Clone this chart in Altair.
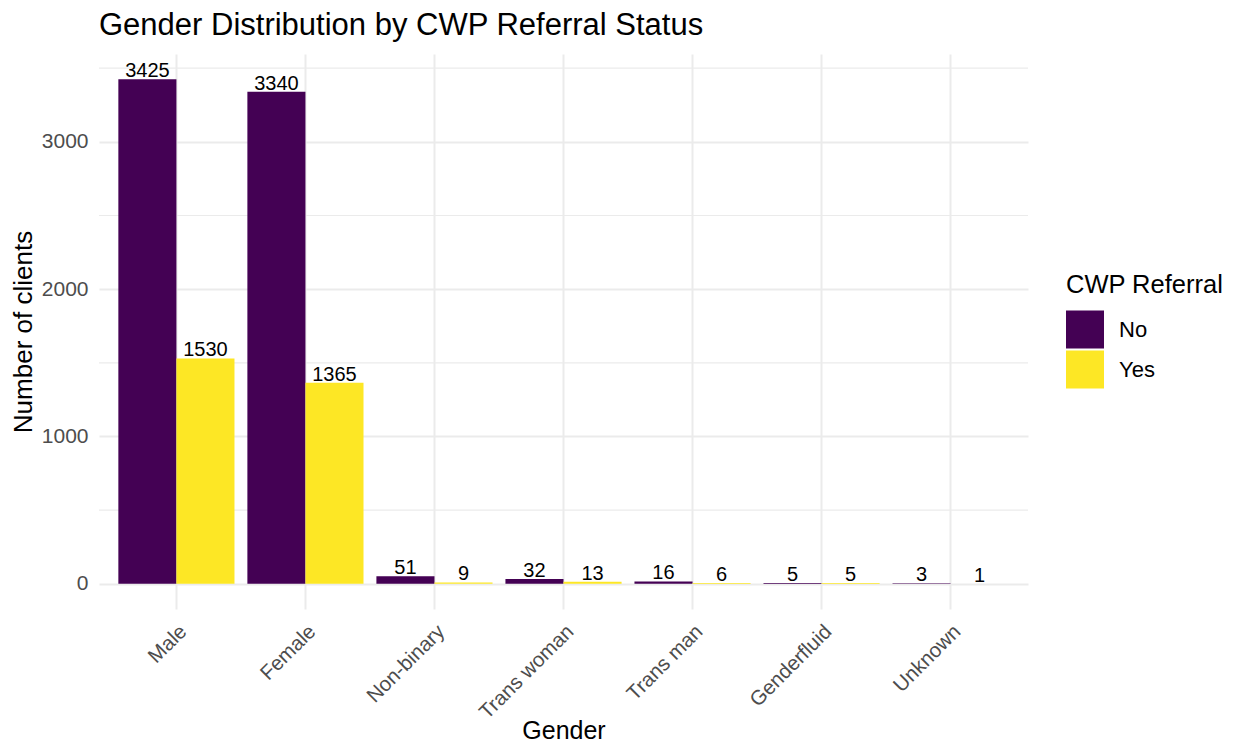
import altair as alt
import pandas as pd

genders = ["Male", "Female", "Non-binary", "Trans woman", "Trans man", "Genderfluid", "Unknown"]
no_counts = [3425, 3340, 51, 32, 16, 5, 3]
yes_counts = [1530, 1365, 9, 13, 6, 5, 1]
referral_levels = ["No", "Yes"]
referral_colors = ["#440154", "#FDE725"]
major_ticks = [0, 1000, 2000, 3000]
minor_ticks = [500, 1500, 2500, 3500]

rows = []
for g, n, y in zip(genders, no_counts, yes_counts):
    rows.append({"Gender": g, "CWP Referral": "No", "count": n})
    rows.append({"Gender": g, "CWP Referral": "Yes", "count": y})
df = pd.DataFrame(rows)
minor_df = pd.DataFrame({"v": minor_ticks})

FONT = "Arial, Liberation Sans, sans-serif"
ymax = max(no_counts + yes_counts)
ydom = [-0.05 * ymax, 1.05 * ymax]

yscale = alt.Scale(domain=ydom, nice=False, zero=False)
xscale = alt.Scale(domain=genders, paddingInner=0.1, paddingOuter=0.15)
xoff_scale = alt.Scale(domain=referral_levels, paddingInner=0, paddingOuter=0)

x_enc = alt.X(
    "Gender:N", scale=xscale, sort=genders, title="Gender",
    axis=alt.Axis(
        labelAngle=-45, labelAlign="right", labelBaseline="top",
        labelFontSize=20.5, labelColor="#4D4D4D", labelFont=FONT, labelPadding=12,
        ticks=False, domain=False, grid=True, gridColor="#EBEBEB", gridWidth=2,
        bandPosition=0.5, titleFontSize=25, titleFont=FONT, titleFontWeight="normal",
        titleColor="#000000", titleY=129, titleBaseline="alphabetic",
    ),
)

minor = alt.Chart(minor_df).mark_rule(color="#EBEBEB", strokeWidth=1.2).encode(
    y=alt.Y("v:Q", scale=yscale)
)

bars = alt.Chart(df).mark_bar().encode(
    x=x_enc,
    xOffset=alt.XOffset("CWP Referral:N", scale=xoff_scale, sort=referral_levels),
    y=alt.Y(
        "count:Q", scale=yscale, title="Number of clients",
        axis=alt.Axis(
            values=major_ticks, format="d", labelFontSize=21, labelColor="#4D4D4D",
            labelFont=FONT, labelPadding=11, ticks=False, domain=False,
            gridColor="#EBEBEB", gridWidth=2, titleFontSize=26, titleFont=FONT,
            titleFontWeight="normal", titleColor="#000000", titlePadding=5,
        ),
    ),
    y2=alt.datum(0),
    color=alt.Color(
        "CWP Referral:N",
        scale=alt.Scale(domain=referral_levels, range=referral_colors),
        legend=alt.Legend(
            orient="none", legendX=967, legendY=219, title="CWP Referral",
            titleFontSize=25.5, titleFont=FONT, titleFontWeight="normal", titleColor="#000000",
            titlePadding=12, labelFontSize=22, labelFont=FONT, labelColor="#000000",
            symbolType="square", symbolSize=1444, symbolStrokeWidth=0, symbolOpacity=1,
            rowPadding=2, labelOffset=15,
        ),
    ),
)

labels = alt.Chart(df).mark_text(
    baseline="alphabetic", dy=-2, fontSize=20, font=FONT, color="#000000"
).encode(
    x=alt.X("Gender:N", scale=xscale, sort=genders),
    xOffset=alt.XOffset("CWP Referral:N", scale=xoff_scale, sort=referral_levels),
    y=alt.Y("count:Q", scale=yscale),
    text=alt.Text("count:Q", format="d"),
)

chart = alt.layer(minor, bars, labels).properties(
    width=929,
    height=555,
    autosize=alt.AutoSizeParams(type="none"),
    padding={"left": 91, "top": 46, "right": 200, "bottom": 135},
    title=alt.TitleParams(
        "Gender Distribution by CWP Referral Status", anchor="start", frame="group",
        fontSize=31, font=FONT, fontWeight="normal", color="#000000",
        baseline="alphabetic", offset=17, dy=29,
    ),
).configure_view(stroke=None)

chart.save("out.html", embed_options={"renderer": "svg", "actions": False})
